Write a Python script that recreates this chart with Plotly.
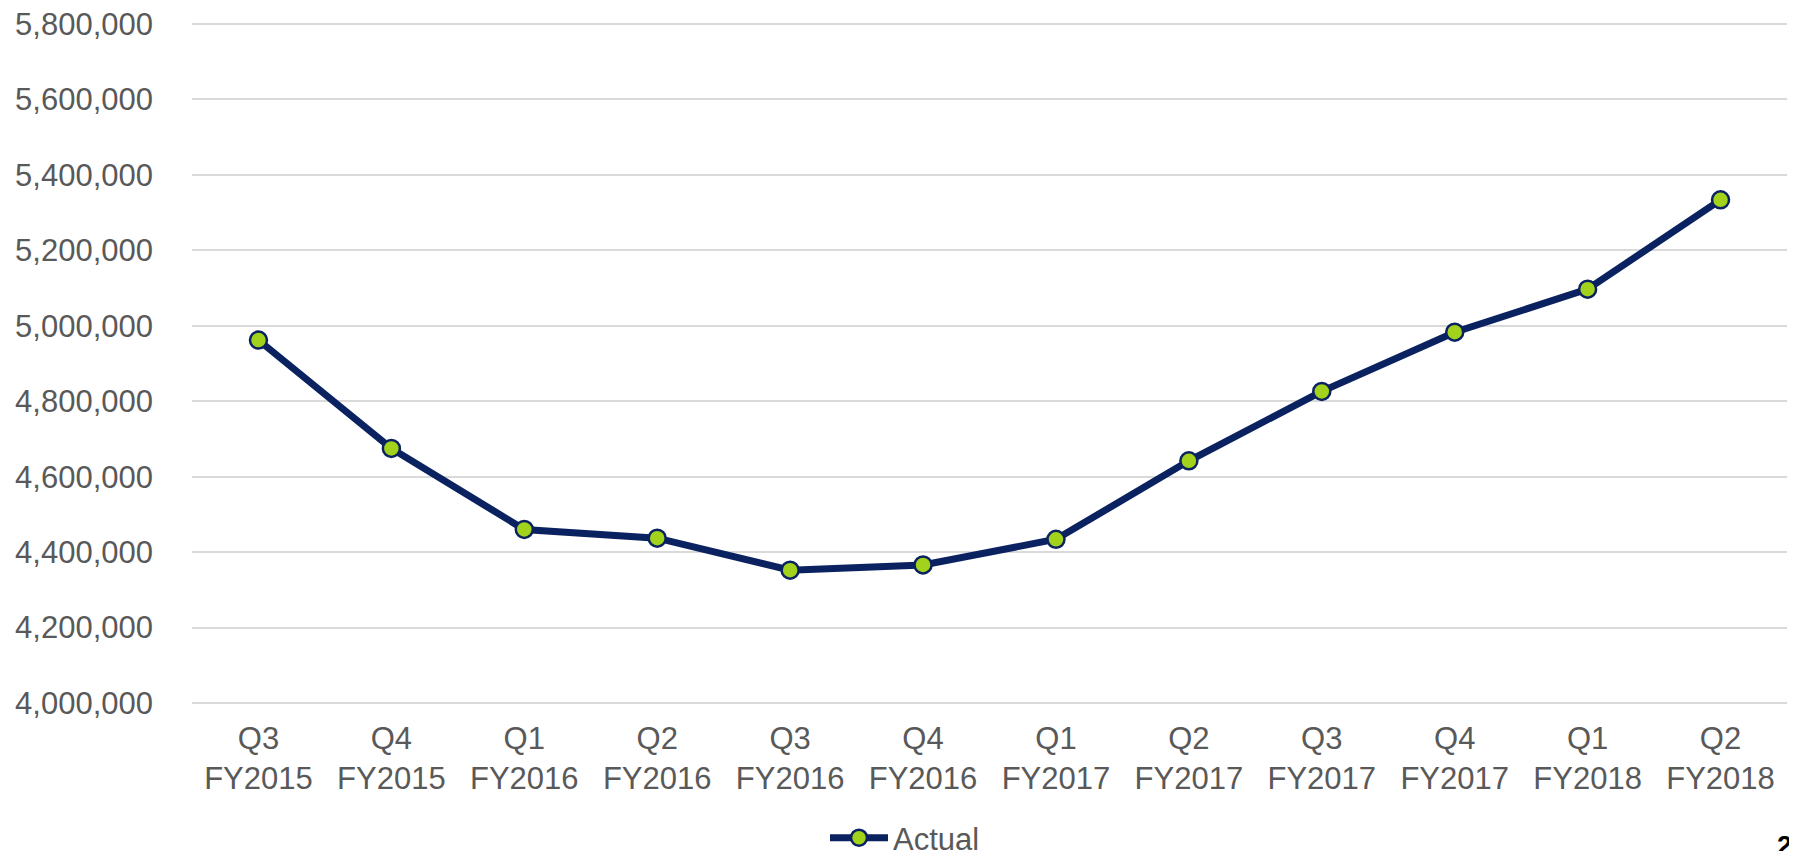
import plotly.graph_objects as go

categories = ["Q3<br>FY2015", "Q4<br>FY2015", "Q1<br>FY2016", "Q2<br>FY2016",
              "Q3<br>FY2016", "Q4<br>FY2016", "Q1<br>FY2017", "Q2<br>FY2017",
              "Q3<br>FY2017", "Q4<br>FY2017", "Q1<br>FY2018", "Q2<br>FY2018"]
actual = [4962000, 4675000, 4460000, 4437000, 4352000, 4366000,
          4434000, 4642000, 4826000, 4983000, 5097000, 5334000]
y_ticks = [4000000, 4200000, 4400000, 4600000, 4800000, 5000000, 5200000, 5400000, 5600000, 5800000]

TEXT = "#595959"
FONT = "Liberation Sans, Arial, sans-serif"

OFF = 8                      # page body margin of the browser
W, H = 1797 - OFF, 851 - OFF
L, R, T, B = 184, 10, 12, 144
PW, PH = W - L - R, H - T - B
PAD = 4 * 1800000 / 679      # 4px of padding so edge gridlines are drawn

def px_x(xw):  # window x -> paper
    return (xw - OFF - L) / PW

def px_y(yw):  # window y -> paper
    return (H - B - (yw - OFF)) / PH

fig = go.Figure()
fig.add_trace(go.Scatter(
    x=categories, y=actual, name="Actual", mode="lines+markers",
    line=dict(color="#0B2261", width=7),
    marker=dict(size=17, color="#A2D21C", line=dict(color="#0B2261", width=2.5)),
))

fig.update_layout(
    width=W, height=H,
    margin=dict(l=L, r=R, t=T, b=B, autoexpand=False),
    paper_bgcolor="white", plot_bgcolor="white",
    font=dict(family=FONT, size=31, color=TEXT),
    showlegend=True,
    legend=dict(orientation="h", x=px_x(825), xanchor="left",
                y=px_y(838), yanchor="middle",
                font=dict(size=31, color=TEXT), itemwidth=58,
                bgcolor="rgba(0,0,0,0)"),
    xaxis=dict(type="category", range=[-0.5, 11.5], showgrid=False, showline=False,
               zeroline=False, ticks="", tickfont=dict(size=31, color=TEXT),
               ticklabelstandoff=10, ticklabeloverflow="allow"),
    yaxis=dict(range=[4000000 - PAD, 5800000 + PAD], tickvals=y_ticks, tickformat=",d",
               showgrid=True, gridcolor="#D9D9D9", gridwidth=1.5, zeroline=False,
               showline=False, ticks="", tickfont=dict(size=31, color=TEXT),
               ticklabelstandoff=38, ticklabeloverflow="allow"),
    annotations=[dict(text="<b>2</b>", x=px_x(1775), y=px_y(829),
                      xref="paper", yref="paper", showarrow=False,
                      font=dict(size=27, color="#000000", family=FONT),
                      xanchor="left", yanchor="top")],
)

fig.write_html("out.html")
